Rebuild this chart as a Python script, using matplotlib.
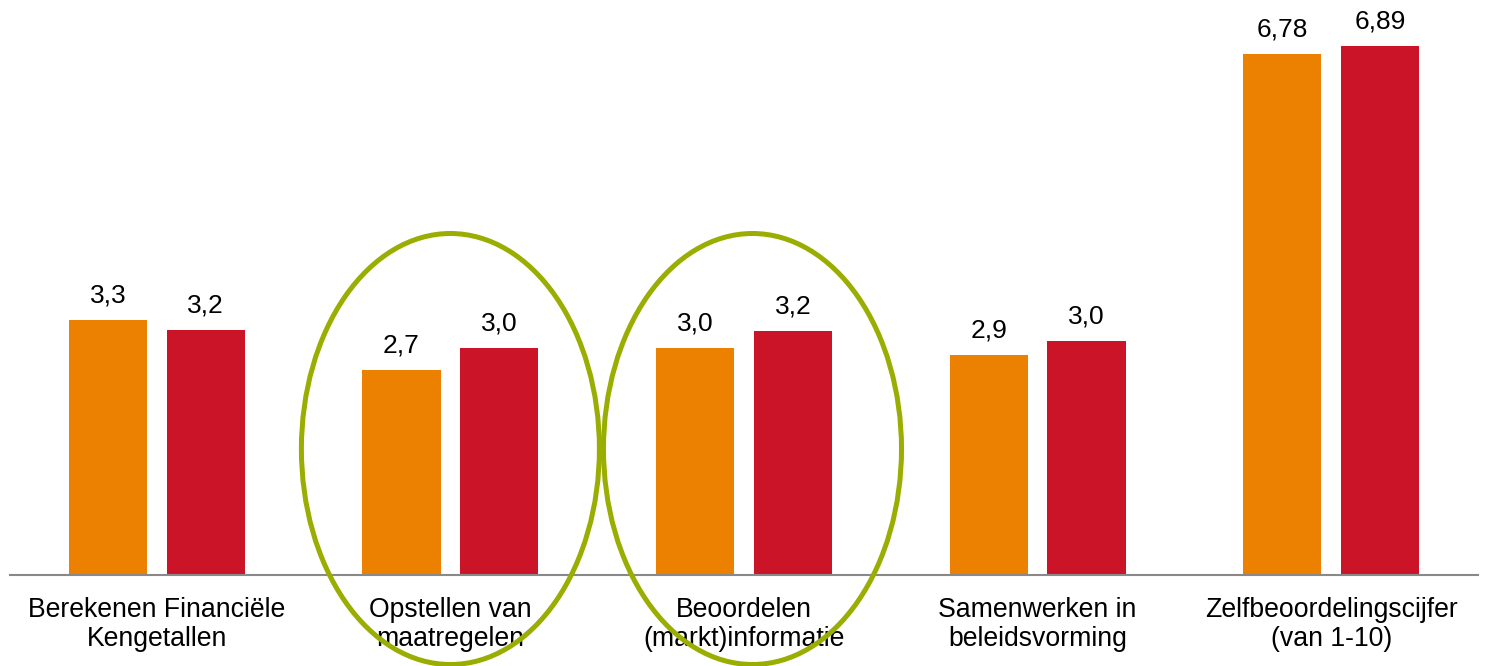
import matplotlib
matplotlib.use("Agg")
import matplotlib.pyplot as plt
from matplotlib.patches import Ellipse
from matplotlib.transforms import IdentityTransform
import numpy as np

plt.rcParams['font.family'] = ['Liberation Sans', 'DejaVu Sans']

categories = ["Berekenen Financiële\nKengetallen",
              "Opstellen van\nmaatregelen",
              "Beoordelen\n(markt)informatie",
              "Samenwerken in\nbeleidsvorming",
              "Zelfbeoordelingscijfer\n(van 1-10)"]
series_a = [3.32, 2.66, 2.95, 2.86, 6.78]
series_b = [3.19, 2.95, 3.17, 3.04, 6.89]
labels_a = ["3,3", "2,7", "3,0", "2,9", "6,78"]
labels_b = ["3,2", "3,0", "3,2", "3,0", "6,89"]
highlighted = [1, 2]

W, H = 1485, 666
fig = plt.figure(figsize=(W / 100, H / 100), dpi=100)
ax = fig.add_axes([10 / W, (H - 574.5) / H, (1478 - 10) / W, 574.5 / H])

x = np.arange(len(categories))
bw = 0.266
off = 0.1665
c_a = "#EC8000"
c_b = "#CC1428"
ba = ax.bar(x - off, series_a, bw, color=c_a, zorder=2)
bb = ax.bar(x + off, series_b, bw, color=c_b, zorder=2)

for bars, labs in ((ba, labels_a), (bb, labels_b)):
    for r, t in zip(bars, labs):
        ax.annotate(t, (r.get_x() + r.get_width() / 2, r.get_height()),
                    xytext=(0, 12.7), textcoords="offset points",
                    ha="center", va="baseline", fontsize=19, color="black")

ax.set_xlim(-0.5, len(categories) - 0.5)
ax.set_ylim(0, 7.49)
ax.set_xticks(x)
ax.set_xticklabels(categories, fontsize=19.2, linespacing=1.13)
ax.tick_params(axis="x", length=0, pad=16.5)
ax.set_yticks([])
for s in ("top", "right", "left"):
    ax.spines[s].set_visible(False)
ax.spines["bottom"].set_color("#898989")
ax.spines["bottom"].set_linewidth(1.5)

# highlight ellipses around chosen categories (in pixel space)
for i in highlighted:
    cx = ax.transData.transform((x[i], 0))[0]
    if i == 2:
        cx += 8.5
    e = Ellipse((cx, H - 449), 298, 431, transform=IdentityTransform(),
                fill=False, edgecolor="#99AE00", linewidth=3.6,
                clip_on=False, zorder=10)
    ax.add_artist(e)

fig.savefig("out.png", dpi=100)
